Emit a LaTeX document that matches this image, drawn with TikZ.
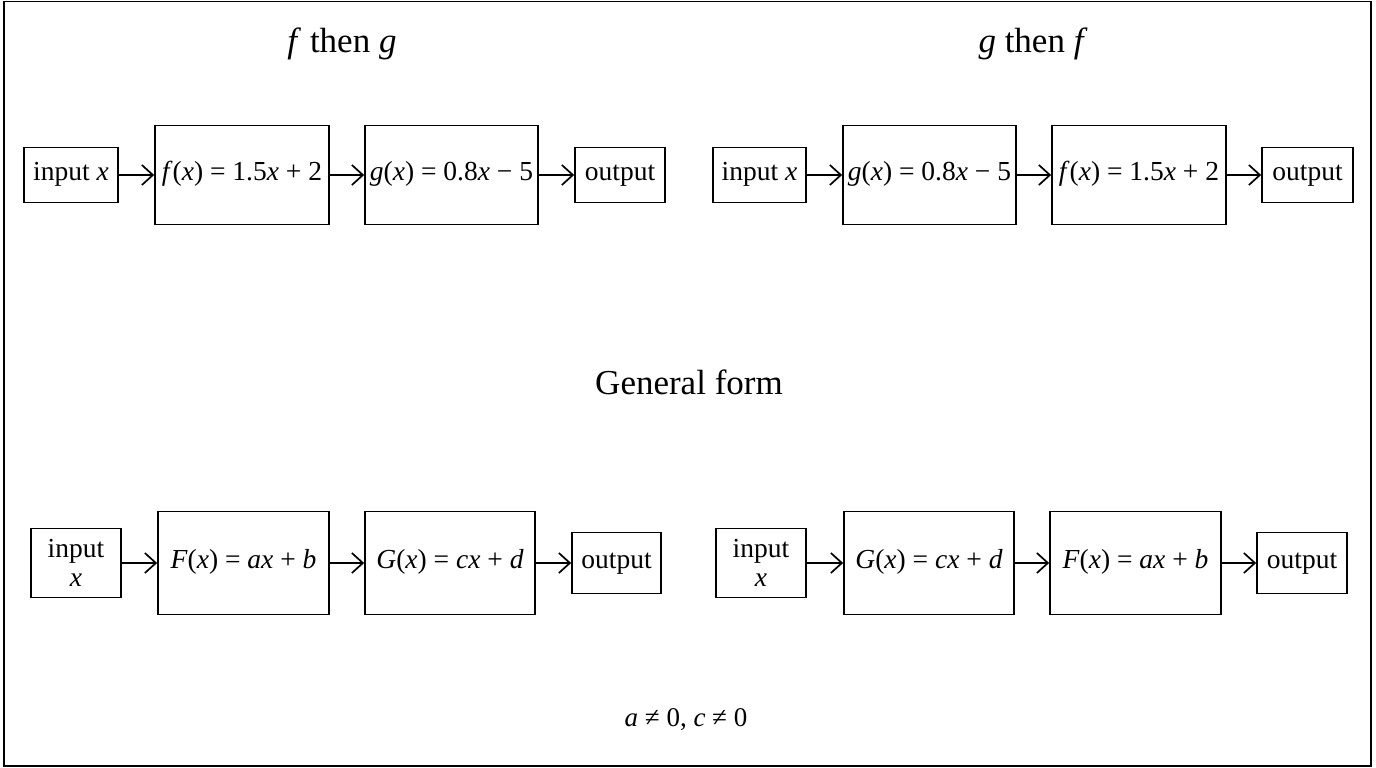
\documentclass[tikz,border=0pt]{standalone}
\usepackage{fontspec}
\setmainfont{Liberation Serif}
\usetikzlibrary{arrows.meta}
\begin{document}
\begin{tikzpicture}[x=1pt,y=-1pt,
  box/.style={draw, line width=1.7pt, inner sep=0pt, align=center,
    font=\fontsize{27.5}{29}\selectfont},
  arr/.style={line width=1.7pt, -{Straight Barb[length=11pt,width=20pt,line width=1.7pt]}},
  title/.style={font=\fontsize{35}{40}\selectfont},
  note/.style={font=\fontsize{27}{30}\selectfont}]
\useasboundingbox (0,0) rectangle (1376,768);
\draw[line width=1.7pt] (4,1.5) rectangle (1371,766);
% titles
\node[title] (t1) at (342,44) {\textit{f} then \textit{g}};
\node[title] (t2) at (1033,44) {\textit{g} then \textit{f}};
\node[title] (t3) at (689,382) {General form};
\node[note] (t4) at (686,720) {\textit{a} ≠ 0, \textit{c} ≠ 0};
% row 1 left
\node[box, minimum width=94pt, minimum height=55pt] (a1) at (71,175) {\strut input \textit{x}};
\node[box, minimum width=174pt, minimum height=99pt] (a2) at (242,175) {\strut\textit{f}(\textit{x}) = 1.5\textit{x} + 2};
\node[box, minimum width=173pt, minimum height=99pt] (a3) at (451.5,175) {\strut\textit{g}(\textit{x}) = 0.8\textit{x} − 5};
\node[box, minimum width=90pt, minimum height=55pt] (a4) at (620,175) {\strut output};
\draw[arr] (a1) -- (a2);
\draw[arr] (a2) -- (a3);
\draw[arr] (a3) -- (a4);
% row 1 right
\node[box, minimum width=93pt, minimum height=55pt] (b1) at (759.5,175) {\strut input \textit{x}};
\node[box, minimum width=173pt, minimum height=99pt] (b2) at (929.5,175) {\strut\textit{g}(\textit{x}) = 0.8\textit{x} − 5};
\node[box, minimum width=174pt, minimum height=99pt] (b3) at (1139,175) {\strut\textit{f}(\textit{x}) = 1.5\textit{x} + 2};
\node[box, minimum width=91pt, minimum height=55pt] (b4) at (1307.5,175) {\strut output};
\draw[arr] (b1) -- (b2);
\draw[arr] (b2) -- (b3);
\draw[arr] (b3) -- (b4);
% row 2 left
\node[box, minimum width=90pt, minimum height=69pt] (c1) at (76,563) {input\\[0pt]\textit{x}};
\node[box, minimum width=171pt, minimum height=103pt] (c2) at (243.5,563) {\strut\textit{F}(\textit{x}) = \textit{ax} + \textit{b}};
\node[box, minimum width=170pt, minimum height=103pt] (c3) at (450,563) {\strut\textit{G}(\textit{x}) = \textit{cx} + \textit{d}};
\node[box, minimum width=89pt, minimum height=61pt] (c4) at (616.5,563) {\strut output};
\draw[arr] (c1) -- (c2);
\draw[arr] (c2) -- (c3);
\draw[arr] (c3) -- (c4);
% row 2 right
\node[box, minimum width=90pt, minimum height=69pt] (d1) at (761,563) {input\\[0pt]\textit{x}};
\node[box, minimum width=170pt, minimum height=103pt] (d2) at (929,563) {\strut\textit{G}(\textit{x}) = \textit{cx} + \textit{d}};
\node[box, minimum width=171pt, minimum height=103pt] (d3) at (1135.5,563) {\strut\textit{F}(\textit{x}) = \textit{ax} + \textit{b}};
\node[box, minimum width=90pt, minimum height=61pt] (d4) at (1302,563) {\strut output};
\draw[arr] (d1) -- (d2);
\draw[arr] (d2) -- (d3);
\draw[arr] (d3) -- (d4);
\end{tikzpicture}
\end{document}
